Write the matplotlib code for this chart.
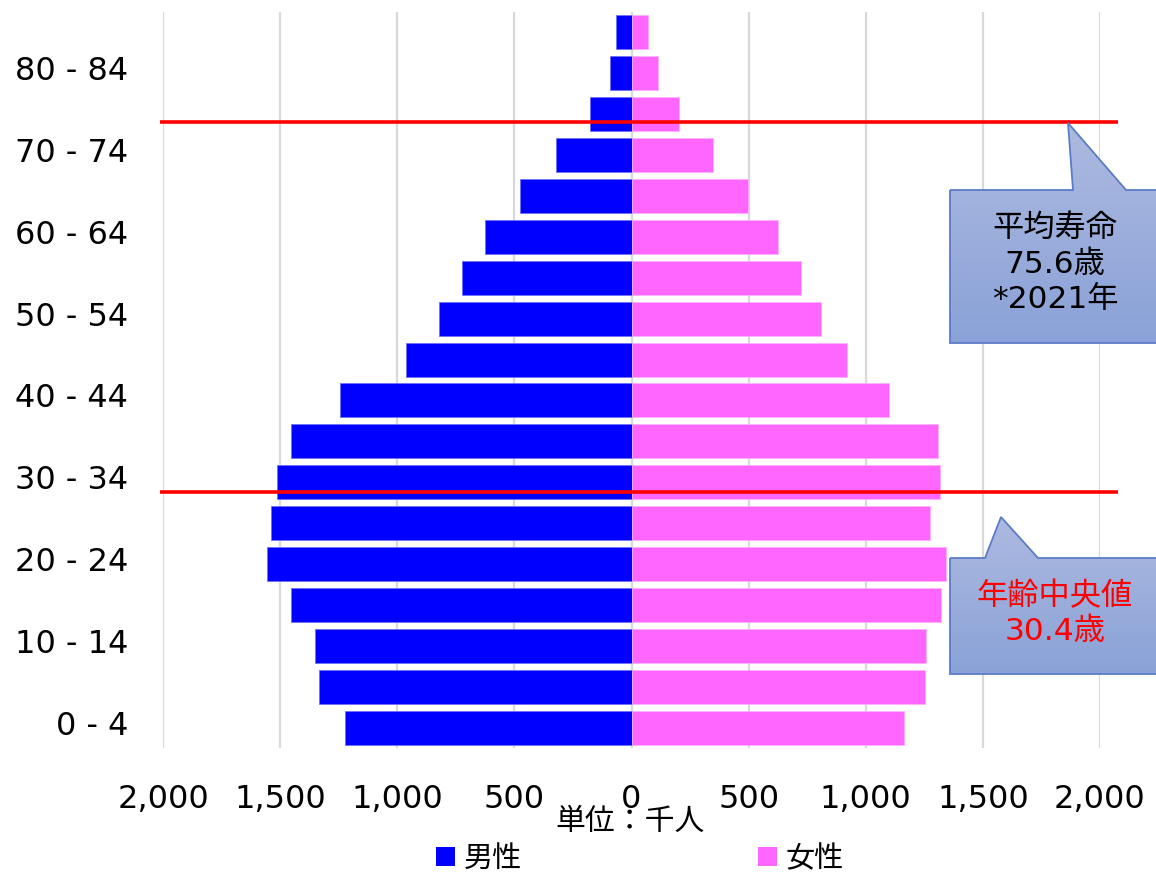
import numpy as np
import matplotlib
matplotlib.use("Agg")
import matplotlib.pyplot as plt
from matplotlib.patches import Polygon, Patch
from matplotlib.ticker import FuncFormatter
from matplotlib.colors import LinearSegmentedColormap
import matplotlib.transforms as mtransforms

plt.rcParams['font.family'] = ['DejaVu Sans', 'Noto Sans CJK JP']

# ---- data (thousand people) ----
age_groups = ["0 - 4", "5 - 9", "10 - 14", "15 - 19", "20 - 24", "25 - 29",
              "30 - 34", "35 - 39", "40 - 44", "45 - 49", "50 - 54", "55 - 59",
              "60 - 64", "65 - 69", "70 - 74", "75 - 79", "80 - 84", "85 -"]
male = [1221, 1333, 1353, 1455, 1555, 1538, 1515, 1452, 1246, 964,
        823, 725, 627, 478, 324, 177, 91, 67]
female = [1165, 1255, 1258, 1321, 1344, 1276, 1317, 1310, 1101, 922,
          811, 725, 627, 499, 350, 202, 113, 69]
xticks_vals = [-2000, -1500, -1000, -500, 0, 500, 1000, 1500, 2000]
life_expectancy_pos = 14.8   # 75.6 years, in category-axis units
median_age_pos = 5.76        # 30.4 years, in category-axis units
legend_labels = ["男性", "女性"]
callout1_lines = "平均寿命\n75.6歳\n*2021年"
callout2_lines = "年齢中央値\n30.4歳"
unit_label = "単位：千人"

W, H = 1156, 872
fig = plt.figure(figsize=(W / 100, H / 100), dpi=100)
ax = fig.add_axes([163 / W, 1 - 748 / H, (1100 - 163) / W, (748 - 12) / H])

y = np.arange(len(age_groups))
ax.barh(y, -np.array(male), height=0.83, color="#0000FF",
        edgecolor="#7070FF", linewidth=0.6, zorder=2)
ax.barh(y, female, height=0.83, color="#FF66FF",
        edgecolor="#FFB0FF", linewidth=0.6, zorder=2)

ax.set_xlim(-2000, 2000)
ax.set_ylim(-0.5, len(age_groups) - 0.5)
ax.set_xticks(xticks_vals)
ax.xaxis.set_major_formatter(FuncFormatter(lambda v, p: f"{abs(int(v)):,}"))
ax.set_yticks(y[::2])
ax.set_yticklabels(age_groups[::2])
ax.tick_params(axis='both', length=0, labelsize=23, colors="#000000")
ax.tick_params(axis='x', pad=26)
ax.tick_params(axis='y', pad=25)
shift = mtransforms.ScaledTranslation(0, 5 / 100, fig.dpi_scale_trans)
for lab in ax.get_yticklabels():
    lab.set_transform(lab.get_transform() + shift)
for s in ax.spines.values():
    s.set_visible(False)
ax.grid(axis='x', color="#D9D9D9", linewidth=1.6, zorder=0)
ax.set_axisbelow(True)

# red reference lines
for yy in (life_expectancy_pos, median_age_pos):
    ax.plot([-2013, 2077], [yy, yy], color="#FF0000", linewidth=2.6,
            clip_on=False, zorder=5, solid_capstyle='butt')

# overlay in pixel coords
ov = fig.add_axes([0, 0, 1, 1], zorder=10)
ov.set_xlim(0, W)
ov.set_ylim(H, 0)
ov.axis('off')
ov.patch.set_alpha(0)

grad = np.linspace(0, 1, 256).reshape(-1, 1)
cmap = LinearSegmentedColormap.from_list("g", ["#ADBAE0", "#8AA2D8"])

def callout(pts, y0, y1):
    poly = Polygon(pts, closed=True, facecolor="none", edgecolor="#5A7CC6",
                   linewidth=1.3, zorder=12)
    ov.add_patch(poly)
    xs = [p[0] for p in pts]
    im = ov.imshow(grad, cmap=cmap, extent=(min(xs), max(xs), y1, y0),
                   aspect='auto', zorder=11, interpolation='bilinear')
    clip = Polygon(pts, closed=True, transform=ov.transData)
    im.set_clip_path(clip)

pts1 = [(950, 190), (1073, 190), (1068, 123), (1126, 190), (1170, 190),
        (1170, 343), (950, 343)]
callout(pts1, 123, 343)
pts2 = [(950, 558), (985, 558), (1001, 517), (1038, 558), (1170, 558),
        (1170, 674), (950, 674)]
callout(pts2, 517, 674)
ov.set_xlim(0, W)
ov.set_ylim(H, 0)

ov.text(1055, 264, callout1_lines, ha='center', va='center', fontsize=22.5,
        color="#000000", linespacing=1.28, zorder=13,
        family=['DejaVu Sans', 'Noto Sans CJK JP'])
ov.text(1055, 614, callout2_lines, ha='center', va='center', fontsize=22.5,
        color="#FF0000", linespacing=1.28, zorder=13,
        family=['DejaVu Sans', 'Noto Sans CJK JP'])

# unit label
ov.text(630, 821, unit_label, ha='center', va='center', fontsize=21.5,
        family=['Noto Sans CJK JP', 'DejaVu Sans'], zorder=13)

# partially cut axis title at the top
ov.text(75, 3, "年齢（歳）", ha='center', va='bottom', fontsize=20,
        family=['Noto Sans CJK JP', 'DejaVu Sans'], zorder=13)

# legend
handles = [Patch(facecolor="#0000FF", edgecolor="none"),
           Patch(facecolor="#FF66FF", edgecolor="none")]
leg = fig.legend(handles, legend_labels, loc='center',
                 bbox_to_anchor=(640 / W, 1 - 859 / H), ncol=2, frameon=False,
                 handlelength=0.65, handleheight=0.65, handletextpad=0.3,
                 columnspacing=8.1,
                 prop={'family': ['Noto Sans CJK JP', 'DejaVu Sans'], 'size': 21})

fig.savefig("out.png", dpi=100)
